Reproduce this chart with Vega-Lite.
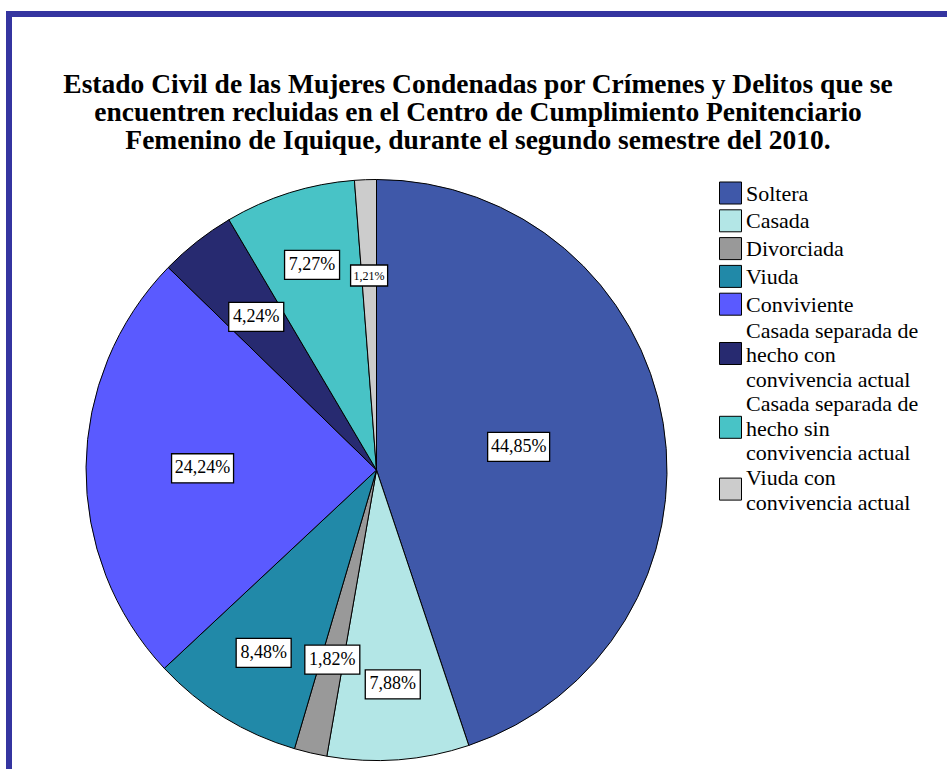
{
  "$schema": "https://vega.github.io/schema/vega-lite/v6.json",
  "width": 938,
  "height": 755,
  "autosize": {"type": "none"},
  "padding": {"left": 9, "top": 14, "right": 0, "bottom": 0},
  "background": "white",
  "config": {"view": {"stroke": null}},
  "title": {
    "text": [
      "Estado Civil de las Mujeres Condenadas por Crímenes y Delitos que se",
      "encuentren recluidas en el Centro de Cumplimiento Penitenciario",
      "Femenino de Iquique, durante el segundo semestre del 2010."
    ],
    "font": "Liberation Serif",
    "fontSize": 27.5,
    "fontWeight": "bold",
    "color": "black",
    "lineHeight": 28,
    "anchor": "middle",
    "frame": "group",
    "offset": -144
  },
  "data": {
    "values": [
      {"estado": "Soltera", "pct": 44.85, "order": 1},
      {"estado": "Casada", "pct": 7.88, "order": 2},
      {"estado": "Divorciada", "pct": 1.82, "order": 3},
      {"estado": "Viuda", "pct": 8.48, "order": 4},
      {"estado": "Conviviente", "pct": 24.24, "order": 5},
      {"estado": "Casada separada de hecho con convivencia actual", "pct": 4.24, "order": 6},
      {"estado": "Casada separada de hecho sin convivencia actual", "pct": 7.27, "order": 7},
      {"estado": "Viuda con convivencia actual", "pct": 1.21, "order": 8}
    ]
  },
  "layer": [
    {
      "mark": {"type": "arc", "outerRadius": 290.5, "stroke": "black", "strokeWidth": 1},
      "encoding": {
        "x": {"datum": 0, "type": "quantitative", "scale": {"domain": [-1.2651, 1.9639], "nice": false, "zero": false}, "axis": null},
        "y": {"datum": 0, "type": "quantitative", "scale": {"domain": [-1.0293, 1.5697], "nice": false, "zero": false}, "axis": null},
        "theta": {"field": "pct", "type": "quantitative", "stack": true},
        "order": {"field": "order", "type": "quantitative"},
        "color": {
          "field": "estado",
          "type": "nominal",
          "sort": null,
          "scale": {
            "domain": [
              "Soltera", "Casada", "Divorciada", "Viuda", "Conviviente",
              "Casada separada de hecho con convivencia actual",
              "Casada separada de hecho sin convivencia actual",
              "Viuda con convivencia actual"
            ],
            "range": ["#3f58a9", "#b3e6e6", "#999999", "#2189a8", "#5a5aff", "#272a70", "#48c3c6", "#cccccc"]
          },
          "legend": {
            "orient": "none",
            "legendX": 710,
            "legendY": 168,
            "title": null,
            "symbolType": "square",
            "symbolSize": 484,
            "symbolStrokeColor": "black",
            "symbolStrokeWidth": 1,
            "symbolOpacity": 1,
            "labelFont": "Liberation Serif",
            "labelFontSize": 22,
            "labelColor": "black",
            "labelLimit": 400,
            "labelOffset": 4,
            "rowPadding": 1.8,
            "padding": 0,
            "labelExpr": "datum.label == 'Casada separada de hecho con convivencia actual' ? ['Casada separada de', 'hecho con', 'convivencia actual'] : datum.label == 'Casada separada de hecho sin convivencia actual' ? ['Casada separada de', 'hecho sin', 'convivencia actual'] : datum.label == 'Viuda con convivencia actual' ? ['Viuda con', 'convivencia actual'] : datum.label",
            "encoding": {
              "labels": {
                "lineHeight": {"value": 24.5}
              },
              "symbols": {
                "y": {
                  "condition": [
                    {"test": "length(datum.value) > 40", "value": 34.5},
                    {"test": "datum.value == 'Viuda con convivencia actual'", "value": 22.5}
                  ],
                  "value": 11
                }
              }
            }
          }
        }
      }
    },
    {
      "transform": [
        {"joinaggregate": [{"op": "sum", "field": "pct", "as": "total"}]},
        {"window": [{"op": "sum", "field": "pct", "as": "cum"}], "sort": [{"field": "order"}], "frame": [null, 0]},
        {"calculate": "(datum.cum - datum.pct / 2) / datum.total * 2 * PI", "as": "mid"},
        {"calculate": "datum.pct < 5 ? 0.67 : datum.pct < 10 ? 0.74 : 0.72 - 0.005 * datum.pct", "as": "lr"},
        {"calculate": "datum.lr * sin(datum.mid)", "as": "lx"},
        {"calculate": "datum.lr * cos(datum.mid)", "as": "ly"},
        {"calculate": "replace(format(datum.pct, '.2f'), '.', ',') + '%'", "as": "label"}
      ],
      "layer": [
        {
          "mark": {"type": "point", "filled": true, "fill": "white", "stroke": "black", "strokeWidth": 1.3, "opacity": 1, "size": 3844},
          "encoding": {
            "x": {"field": "lx", "type": "quantitative", "scale": {"domain": [-1.2651, 1.9639], "nice": false, "zero": false}, "axis": null},
            "y": {"field": "ly", "type": "quantitative", "scale": {"domain": [-1.0293, 1.5697], "nice": false, "zero": false}, "axis": null},
            "shape": {
              "condition": [
                {"test": "datum.pct < 1.5", "value": "M-0.597,-0.339H0.597V0.339H-0.597Z"},
                {"test": "length(datum.label) > 5", "value": "M-1,-0.468H1V0.468H-1Z"}
              ],
              "value": "M-0.887,-0.468H0.887V0.468H-0.887Z"
            }
          }
        },
        {
          "mark": {"type": "text", "font": "Liberation Serif", "align": "center", "baseline": "middle", "color": "black"},
          "encoding": {
            "x": {"field": "lx", "type": "quantitative", "scale": {"domain": [-1.2651, 1.9639], "nice": false, "zero": false}, "axis": null},
            "y": {"field": "ly", "type": "quantitative", "scale": {"domain": [-1.0293, 1.5697], "nice": false, "zero": false}, "axis": null},
            "text": {"field": "label"},
            "size": {"condition": {"test": "datum.pct < 1.5", "value": 12}, "value": 18}
          }
        }
      ]
    },
    {
      "mark": {"type": "rule", "color": "#3535a0", "strokeWidth": 5.5, "strokeCap": "square"},
      "encoding": {
        "x": {"datum": -1.2651, "type": "quantitative", "scale": {"domain": [-1.2651, 1.9639], "nice": false, "zero": false}, "axis": null}
      }
    },
    {
      "mark": {"type": "rule", "color": "#3535a0", "strokeWidth": 5.5, "strokeCap": "square"},
      "encoding": {
        "y": {"datum": 1.5697, "type": "quantitative", "scale": {"domain": [-1.0293, 1.5697], "nice": false, "zero": false}, "axis": null}
      }
    }
  ]
}
